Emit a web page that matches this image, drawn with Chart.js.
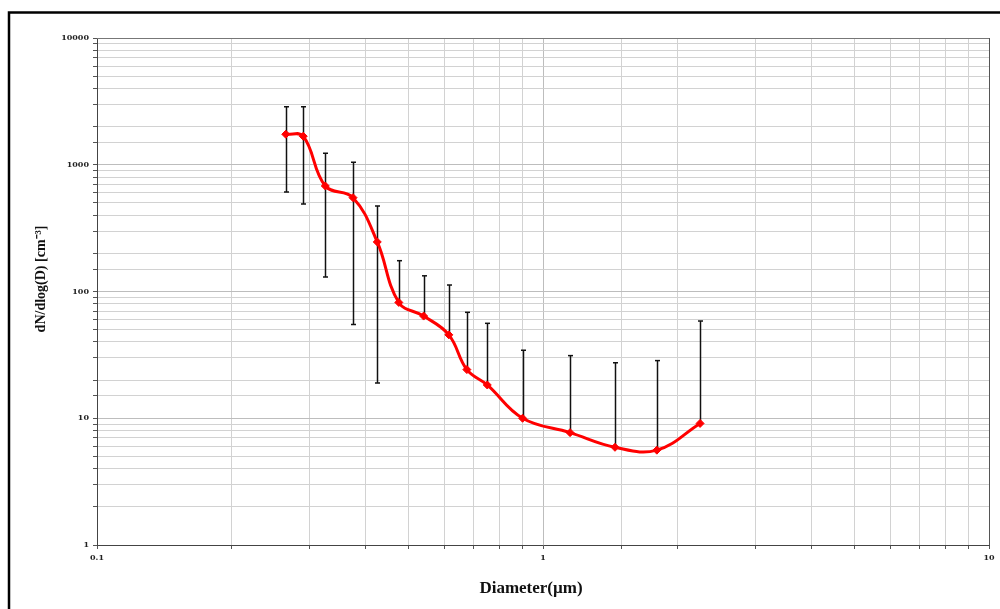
<!DOCTYPE html>
<html>
<head>
<meta charset="utf-8">
<script src="https://cdn.jsdelivr.net/npm/chart.js@4.4.0/dist/chart.umd.min.js"></script>
<style>
html, body { margin: 0; padding: 0; background: #fff; }
#wrap { width: 1000px; height: 609px; }
</style>
</head>
<body>
<div id="wrap"><canvas id="myChart" width="1000" height="609"></canvas></div>
<script>
// valores
const diametros = [0.265, 0.29, 0.325, 0.375, 0.425, 0.475, 0.54, 0.615, 0.675, 0.75, 0.9, 1.15, 1.45, 1.8, 2.25];
const valores = [1740, 1680, 680, 550, 246, 82, 64, 45.5, 24.2, 18.3, 10, 7.7, 5.9, 5.6, 9.1];
const erros = [1130, 1190, 550, 495, 227, 93, 69, 67, 44.3, 37.8, 24.4, 23.5, 21.5, 22.9, 49.4];
const ticksX = [0.1, 1, 10];
const ticksY = [1, 10, 100, 1000, 10000];
const tituloX = 'Diameter(µm)';
const tituloY = 'dN/dlog(D) [cm⁻³]';

function ehMaior(lista, v) {
    return lista.some(t => Math.abs(t - v) / t < 1e-6);
}

// barras de erro (só desenha a parte de baixo quando fica > 0, igual ao Excel em log)
const barrasErro = {
    id: 'barrasErro',
    beforeDatasetsDraw(chart) {
        const ctx = chart.ctx;
        const x = chart.scales.x;
        const y = chart.scales.y;
        ctx.save();
        ctx.strokeStyle = '#111';
        ctx.lineWidth = 1.5;
        diametros.forEach((d, i) => {
            const px = Math.round(x.getPixelForValue(d)) + 0.5;
            const topo = y.getPixelForValue(valores[i] + erros[i]);
            const baixo = valores[i] - erros[i];
            const fundo = baixo > 0 ? y.getPixelForValue(baixo) : y.getPixelForValue(valores[i]);
            ctx.beginPath();
            ctx.moveTo(px, topo);
            ctx.lineTo(px, fundo);
            ctx.stroke();
            ctx.beginPath();
            ctx.moveTo(px - 2.5, topo);
            ctx.lineTo(px + 2.5, topo);
            if (baixo > 0) {
                ctx.moveTo(px - 2.5, fundo);
                ctx.lineTo(px + 2.5, fundo);
            }
            ctx.stroke();
        });
        ctx.restore();
    }
};

// moldura externa, borda da área e títulos dos eixos
const moldura = {
    id: 'moldura',
    beforeDraw(chart) {
        const ctx = chart.ctx;
        ctx.save();
        ctx.fillStyle = '#fff';
        ctx.fillRect(0, 0, chart.width, chart.height);
        ctx.restore();
    },
    afterDraw(chart) {
        const ctx = chart.ctx;
        const a = chart.chartArea;
        ctx.save();
        ctx.strokeStyle = '#000';
        ctx.lineWidth = 2.5;
        ctx.strokeRect(9, 12.5, 1100, 700);

        ctx.strokeStyle = '#777';
        ctx.lineWidth = 1;
        ctx.beginPath();
        ctx.moveTo(a.left, a.top + 0.5);
        ctx.lineTo(a.right, a.top + 0.5);
        ctx.stroke();
        ctx.strokeStyle = '#555';
        ctx.beginPath();
        ctx.moveTo(a.right + 0.5, a.top);
        ctx.lineTo(a.right + 0.5, a.bottom);
        ctx.stroke();

        ctx.fillStyle = '#111';
        ctx.textAlign = 'center';
        ctx.textBaseline = 'middle';
        ctx.font = 'bold 17px "Liberation Serif"';
        ctx.fillText(tituloX, 531, 589);

        ctx.translate(41, 279);
        ctx.rotate(-Math.PI / 2);
        ctx.font = 'bold 14px "Liberation Serif"';
        ctx.fillText(tituloY, 0, 0);
        ctx.restore();
    }
};

const fonteTicks = { family: 'DejaVu Serif', weight: 'bold', size: 8 };

let ctx = document.getElementById('myChart').getContext('2d');
let grafico = new Chart(ctx, {
    type: 'scatter',
    data: {
        datasets: [{
            data: diametros.map((d, i) => ({ x: d, y: valores[i] })),
            showLine: true,
            borderColor: '#ff0000',
            backgroundColor: '#ff0000',
            borderWidth: 3,
            tension: 0.4,
            pointStyle: 'rectRot',
            pointRadius: 4,
            pointHoverRadius: 4,
            pointBorderWidth: 1
        }]
    },
    options: {
        responsive: false,
        animation: false,
        layout: { padding: { left: 0, right: 11, top: 38, bottom: 0 } },
        plugins: {
            legend: { display: false },
            tooltip: { enabled: false }
        },
        scales: {
            x: {
                type: 'logarithmic',
                min: 0.1,
                max: 10,
                afterFit(s) { s.height = 64; },
                border: { color: '#444', width: 1 },
                grid: {
                    color: c => ehMaior(ticksX, c.tick.value) ? '#bdbdbd' : '#d2d2d2',
                    tickColor: '#555',
                    tickLength: 4
                },
                ticks: {
                    autoSkip: false,
                    maxRotation: 0,
                    padding: 4,
                    color: '#222',
                    font: fonteTicks,
                    callback: v => ehMaior(ticksX, v) ? String(v) : ''
                }
            },
            y: {
                type: 'logarithmic',
                min: 1,
                max: 10000,
                afterFit(s) { s.width = 97; },
                border: { color: '#444', width: 1 },
                grid: {
                    color: c => ehMaior(ticksY, c.tick.value) ? '#bdbdbd' : '#d2d2d2',
                    tickColor: '#555',
                    tickLength: 4
                },
                ticks: {
                    autoSkip: false,
                    padding: 4,
                    color: '#222',
                    font: fonteTicks,
                    callback: v => ehMaior(ticksY, v) ? String(v) : ''
                }
            }
        }
    },
    plugins: [moldura, barrasErro]
});
</script>
</body>
</html>
